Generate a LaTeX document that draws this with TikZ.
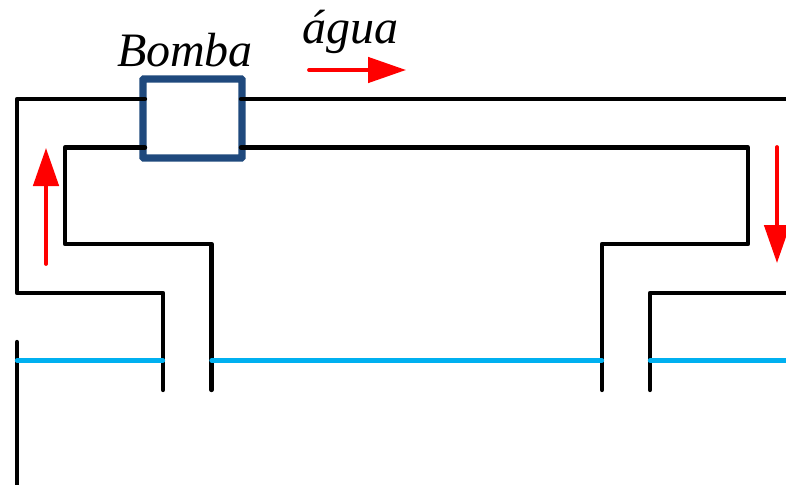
\documentclass[tikz,border=0pt]{standalone}
\usepackage{xcolor}
\usepackage{fontspec}
\setmainfont{Liberation Serif}
\usepackage{tikz}
\usetikzlibrary{arrows.meta}
\definecolor{pumpblue}{HTML}{1F497D}
\definecolor{waterblue}{HTML}{00B0F0}
\tikzstyle{pump} = [rectangle, minimum width=74.25pt, minimum height=59.25pt, inner sep=0pt, line width=5.4pt, rounded corners=0.6pt, draw=pumpblue]
\tikzstyle{label} = [inner sep=0pt, anchor=base, font=\fontsize{36}{36}\selectfont\itshape]
\tikzstyle{pipe} = [line width=3.2pt, line cap=round, line join=round, draw=black]
\tikzstyle{water} = [line width=3.2pt, line cap=round, draw=waterblue]
\tikzstyle{flow} = [line width=2.8pt, line cap=round, draw=red, -{Triangle[length=28.5pt, width=19pt]}]
\begin{document}
\begin{tikzpicture}[x=0.75pt, y=-0.75pt]
	\useasboundingbox (0,0) rectangle (786,485);
	\node (pump) [pump] at (192.5,118.5) {};
	\node (bomba) [label] at (185,66.5) {Bomba};
	\node (agua) [label] at (350.5,44) {água};

	\coordinate (outerL) at (145,99);
	\coordinate (innerL) at (145,147.5);
	\coordinate (outerR) at (241,99);
	\coordinate (innerR) at (241,147.5);
	\coordinate (topEnd) at (786,99);
	\coordinate (leftFoot) at (163,390);
	\coordinate (midFootL) at (211.5,390);
	\coordinate (midFootR) at (602,390);
	\coordinate (rightFoot) at (650,390);
	\coordinate (rightEnd) at (786,293);
	\coordinate (wallTop) at (17,342);
	\coordinate (wallEnd) at (17,485);

	\draw [pipe] (outerL) -- (17,99) -- (17,293) -| (leftFoot);
	\draw [pipe] (innerL) -- (65,147.5) -- (65,244) -| (midFootL);
	\draw [pipe] (outerR) -- (topEnd);
	\draw [pipe] (innerR) -- (748,147.5) -- (748,244) -| (midFootR);
	\draw [pipe] (rightEnd) -| (rightFoot);
	\draw [pipe] (wallTop) -- (wallEnd);

	\coordinate (waterA) at (17,360.5);
	\coordinate (waterB) at (163,360.5);
	\coordinate (waterC) at (211.5,360.5);
	\coordinate (waterD) at (602,360.5);
	\coordinate (waterE) at (650,360.5);
	\coordinate (waterF) at (786,360.5);
	\draw [water] (waterA) -- (waterB);
	\draw [water] (waterC) -- (waterD);
	\draw [water] (waterE) -- (waterF);

	\coordinate (upA) at (46,264);
	\coordinate (upB) at (46,148);
	\coordinate (rightA) at (309,70);
	\coordinate (rightB) at (406,70);
	\coordinate (downA) at (777,147);
	\coordinate (downB) at (777,263);
	\draw [flow] (upA) -- (upB);
	\draw [flow] (rightA) -- (rightB);
	\draw [flow] (downA) -- (downB);
\end{tikzpicture}
\end{document}
